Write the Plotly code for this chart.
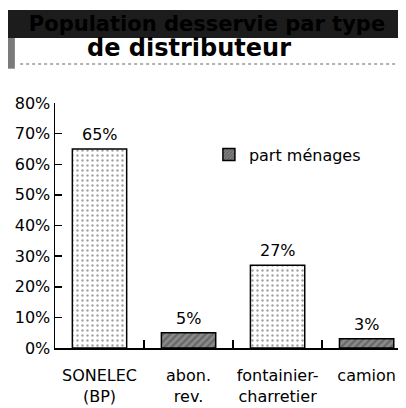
import plotly.graph_objects as go

categories = ["SONELEC<br>(BP)", "abon.<br>rev.", "fontainier-<br>charretier", "camion"]
values = [65, 5, 27, 3]
value_labels = ["65%", "5%", "27%", "3%"]
y_ticks = [0, 10, 20, 30, 40, 50, 60, 70, 80]
y_tick_labels = ["0%", "10%", "20%", "30%", "40%", "50%", "60%", "70%", "80%"]
series_name = "part ménages"
title_line1 = "Population desservie par type"
title_line2 = "de distributeur"

FONT = "DejaVu Sans"
xpos = list(range(len(categories)))

fill_colors = ["white", "#8a8a8a", "white", "#8a8a8a"]
patterns = [".", "/", ".", "/"]
fgcolors = ["#9a9a9a", "#2a2a2a", "#9a9a9a", "#2a2a2a"]
solidities = [0.18, 0.45, 0.18, 0.45]

fig = go.Figure()
fig.add_trace(go.Bar(
    x=xpos, y=values, width=0.61, showlegend=False, hoverinfo="skip",
    marker=dict(color=fill_colors, line=dict(color="black", width=1.5),
                pattern=dict(shape=patterns, fgcolor=fgcolors, size=5, solidity=solidities)),
))
fig.add_trace(go.Bar(
    x=[None], y=[None], name=series_name, showlegend=True, hoverinfo="skip",
    marker=dict(color="#8a8a8a", line=dict(color="black", width=1.5),
                pattern=dict(shape="/", fgcolor="#2a2a2a", size=3, solidity=0.45)),
))

for xi, v, lab in zip(xpos, values, value_labels):
    fig.add_annotation(x=xi, y=v, text=lab, showarrow=False, yanchor="bottom", yshift=3,
                       font=dict(family=FONT, size=16, color="black"))

# left strip and dotted rule under the title
fig.add_shape(type="rect", xref="paper", yref="paper", x0=-0.14, x1=-0.115, y0=1.14, y1=1.27,
              fillcolor="#7a7a7a", line=dict(width=0), layer="above")
fig.add_shape(type="line", xref="paper", yref="paper", x0=-0.1, x1=1.01, y0=1.159, y1=1.159,
              line=dict(color="#999999", width=1.5, dash="dot"), layer="above")
# first title line sits in a dark band (annotation background)
fig.add_annotation(xref="paper", yref="paper", x=0.436, y=1.38, xanchor="center", yanchor="top",
                   text="<b>" + title_line1 + "</b>", showarrow=False,
                   width=398, height=28, borderpad=0, borderwidth=0, bgcolor="#1c1c1c",
                   font=dict(family=FONT, size=21, color="#000000"))
fig.add_annotation(xref="paper", yref="paper", x=0.384, y=1.225, xanchor="center", yanchor="middle",
                   text="<b>" + title_line2 + "</b>", showarrow=False,
                   font=dict(family=FONT, size=24, color="black"))

fig.update_layout(
    width=398, height=400,
    margin=dict(l=47, r=2, t=95, b=54),
    paper_bgcolor="white", plot_bgcolor="white",
    font=dict(family=FONT, size=16, color="black"),
    bargap=0, hovermode=False,
    legend=dict(x=0.441, y=0.789, xanchor="left", yanchor="middle",
                bgcolor="rgba(0,0,0,0)", font=dict(family=FONT, size=16, color="black")),
    xaxis=dict(range=[-0.5, 3.42], tickvals=xpos, ticktext=categories, ticks="",
               showgrid=False, zeroline=False, showline=True, linecolor="black", linewidth=1.5,
               tickfont=dict(family=FONT, size=16, color="black"), ticklabelstandoff=12,
               minor=dict(tickvals=[0.5, 1.5, 2.5], ticks="inside", ticklen=8,
                          tickcolor="black", tickwidth=1.5, showgrid=False)),
    yaxis=dict(range=[0, 80], tickvals=y_ticks, ticktext=y_tick_labels, ticks="inside",
               ticklen=7, tickwidth=1.5, tickcolor="black", showgrid=False, zeroline=False,
               showline=True, linecolor="black", linewidth=1.5,
               tickfont=dict(family=FONT, size=16, color="black")),
)

fig.write_html("out.html", config={"displayModeBar": False, "staticPlot": True})
